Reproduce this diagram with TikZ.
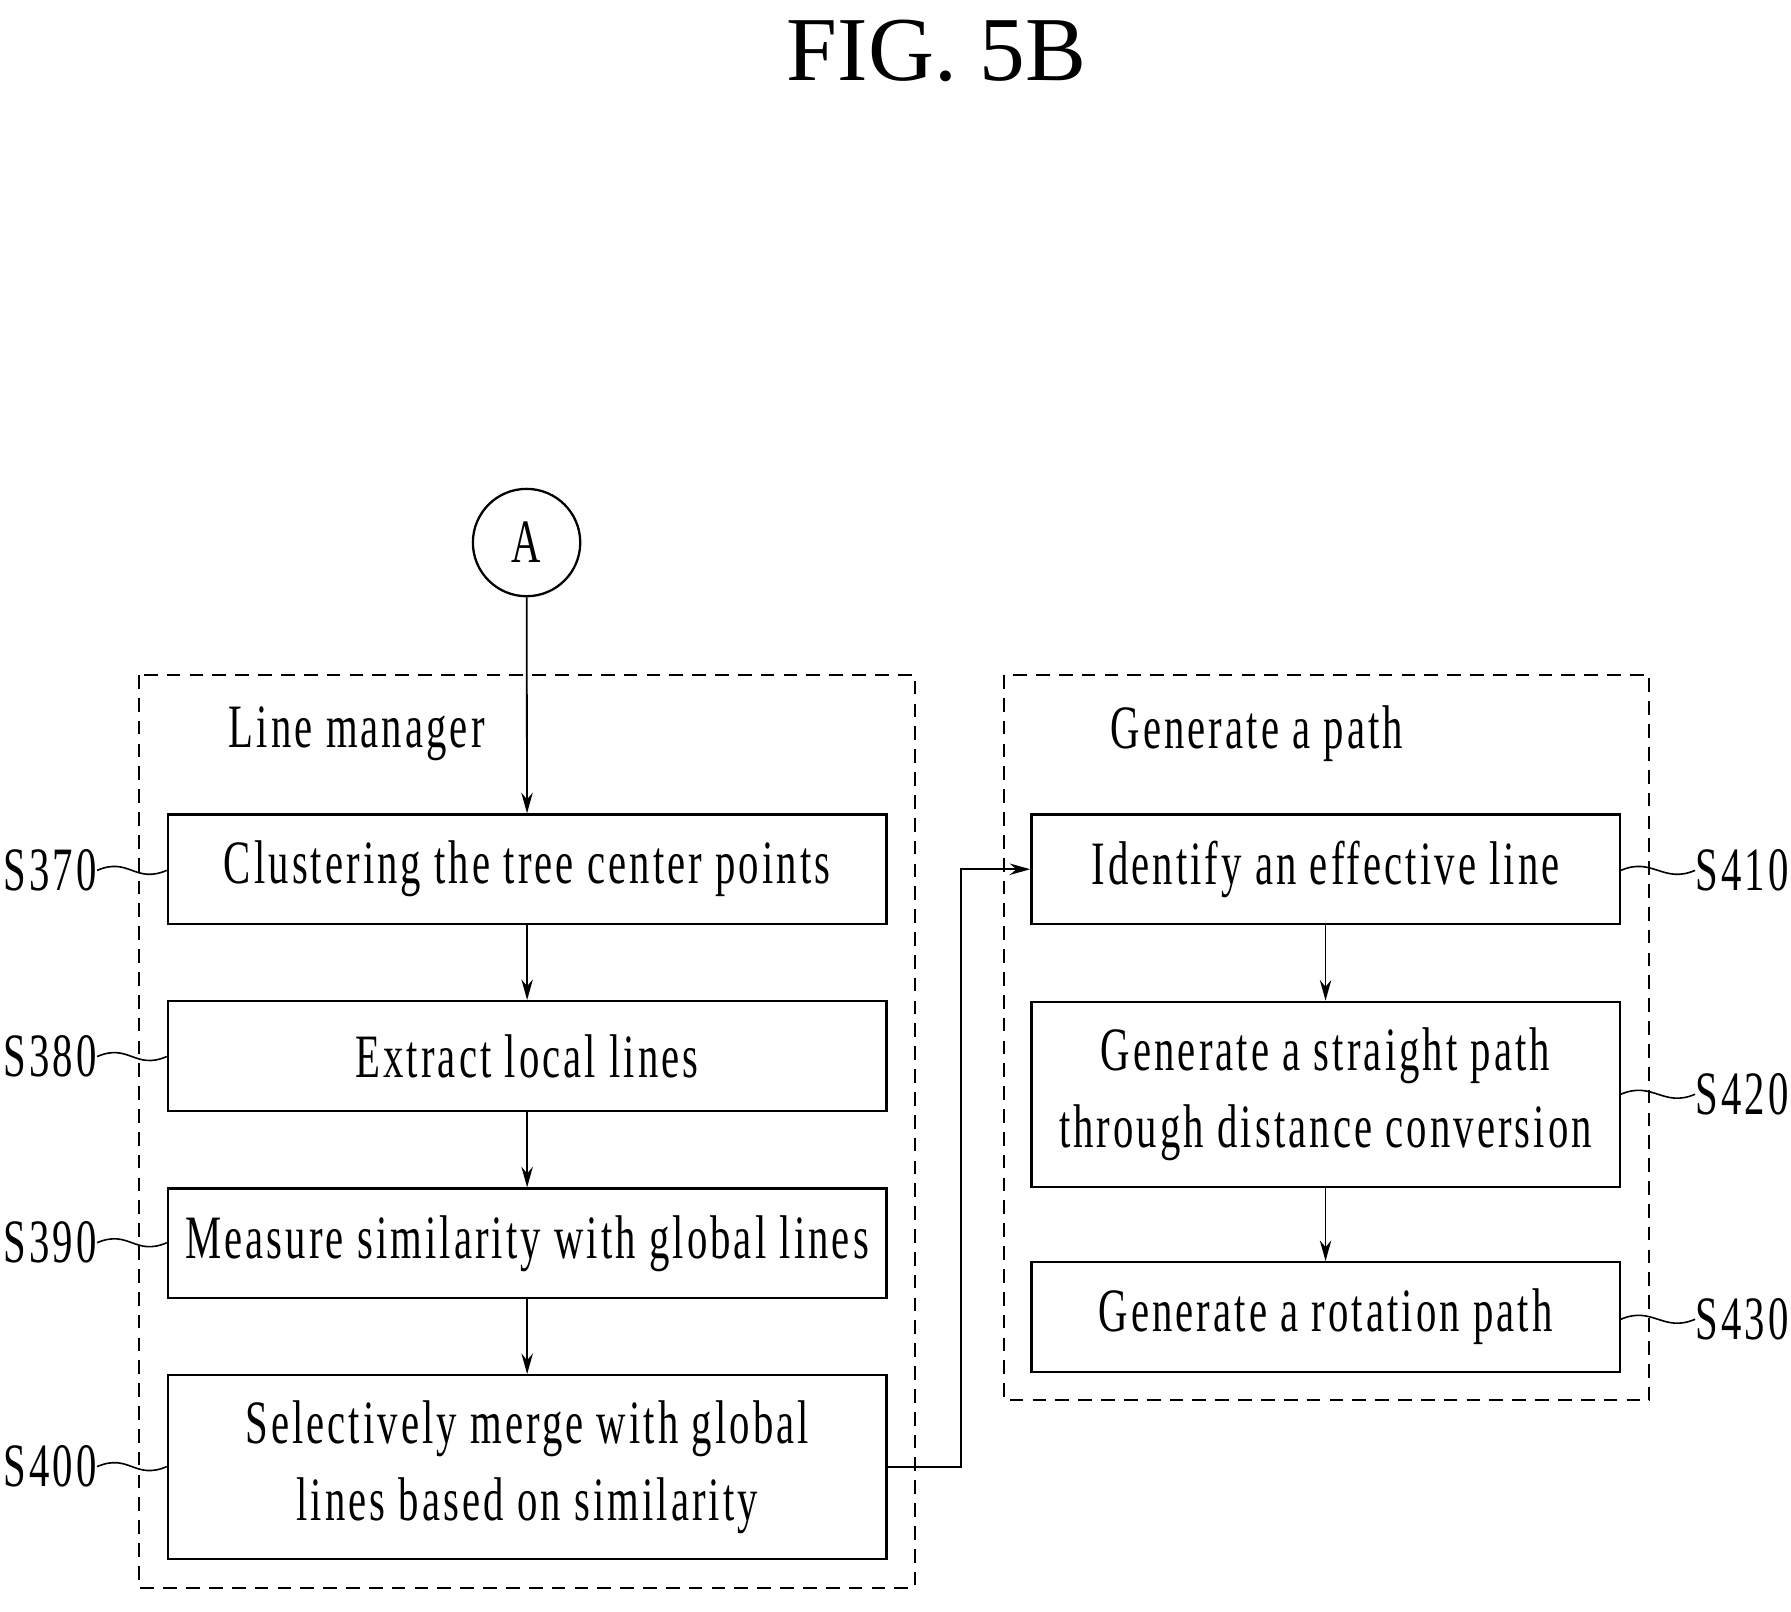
\documentclass[tikz,border=0pt]{standalone}
\usepackage{fontspec}
\setmainfont[FakeStretch=0.66,LetterSpace=5]{Liberation Serif}
\newfontfamily\titlefont{Liberation Serif}
\usetikzlibrary{arrows.meta}
\tikzset{
  stepbox/.style={draw,line width=1pt,minimum height=48pt,align=center,inner sep=0pt,font=\fontsize{27}{34}\selectfont},
  group/.style={draw,dashed,line width=0.8pt,dash pattern=on 6pt off 4pt},
  lbl/.style={inner sep=0pt,font=\fontsize{27}{32}\selectfont},
  flow/.style={line width=0.8pt,-{Stealth[length=9pt,width=5pt]}},
  lead/.style={line width=0.7pt}
}
\begin{document}
\begin{tikzpicture}[x=0.5pt,y=-0.5pt]
\useasboundingbox (0,0) rectangle (1568,1411);

\node[font=\titlefont\fontsize{40}{44}\selectfont] (title) at (820,45) {FIG. 5B};

% groups
\draw[group] (122,591) rectangle (801,1390);
\draw[group] (879,591) rectangle (1444,1226);
\node[lbl,anchor=west] (lm) at (200,642) {Line manager};
\node[lbl,anchor=west] (gp) at (972,642) {Generate a path};

\node[draw,circle,line width=1pt,minimum size=47pt,inner sep=0pt,font=\fontsize{27}{32}\selectfont] (A) at (461,475) {A};

% left column
\node[stepbox,minimum width=314.5pt] (s370) at (461.5,761) {\raisebox{-3pt}{Clustering the tree center points}};
\node[stepbox,minimum width=314.5pt] (s380) at (461.5,924.5) {\raisebox{-3pt}{Extract  local  lines}};
\node[stepbox,minimum width=314.5pt] (s390) at (461.5,1088.5) {\raisebox{-3pt}{Measure similarity with global  lines}};
\node[stepbox,minimum width=314.5pt,minimum height=80.5pt] (s400) at (461.5,1284.5) {Selectively merge with global\\lines based on similarity};

% right column
\node[stepbox,minimum width=257.5pt] (s410) at (1160.5,761) {\raisebox{-3pt}{Identify an effective line}};
\node[stepbox,minimum width=257.5pt,minimum height=81pt] (s420) at (1160.5,958) {Generate a straight path\\through distance conversion};
\node[stepbox,minimum width=257.5pt] (s430) at (1160.5,1153) {\raisebox{-3pt}{Generate a rotation path}};

\draw[flow] (A) -- (s370);
\draw[flow] (s370) -- (s380);
\draw[flow] (s380) -- (s390);
\draw[flow] (s390) -- (s400);
\draw[flow] (s400.east) -- ++(64,0) |- (s410.west);
\draw[flow] (s410) -- (s420);
\draw[flow] (s420) -- (s430);

% step labels
\foreach \n/\y in {370/762,380/925,390/1088,400/1284}{
  \node[lbl,anchor=east] (l\n) at (85,\y) {S\n};
  \draw[lead] (l\n.east) .. controls +(28,-12) and +(-28,12) .. (s\n.west |- l\n.east);
}
\foreach \n/\y in {410/762,420/958,430/1155}{
  \node[lbl,anchor=west] (l\n) at (1484,\y) {S\n};
  \draw[lead] (s\n.east |- l\n.west) .. controls +(28,-12) and +(-28,12) .. (l\n.west);
}
\end{tikzpicture}
\end{document}
